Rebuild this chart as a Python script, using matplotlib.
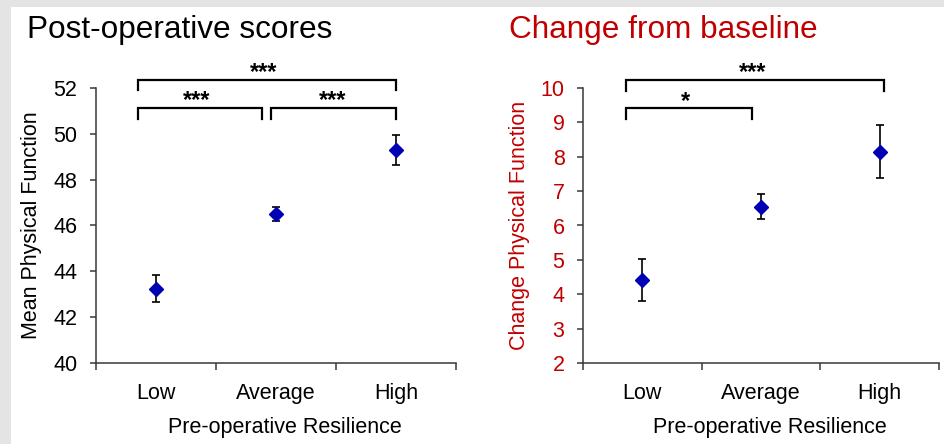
import numpy as np
import matplotlib
matplotlib.use('Agg')
from matplotlib import pyplot as plt
from matplotlib.patches import Rectangle

plt.rcParams['font.family'] = ['Liberation Sans', 'DejaVu Sans']

categories = ['Low', 'Average', 'High']

post_mean = [43.25, 46.5, 49.3]
post_err = [0.6, 0.3, 0.65]

change_mean = [4.42, 6.55, 8.15]
change_err = [0.61, 0.36, 0.78]

# brackets: (x_start, x_end, y_bar, y_leg, label, x_label)
post_brackets = [
	(0.85, 3.0, 52.35, 51.9, '***', 1.9),
	(0.85, 1.885, 51.14, 50.63, '***', 1.34),
	(1.96, 3.0, 51.14, 50.63, '***', 2.47),
]
change_brackets = [
	(0.86, 3.04, 10.23, 9.92, '***', 1.93),
	(0.86, 1.92, 9.41, 9.09, '*', 1.36),
]

RED = '#C00000'
BLUE = '#0000B4'
AXC = '#383838'


def draw_panel(ax, means, errs, ylim, yticks, ylabel, label_color, brackets):
	x = np.arange(1, len(categories) + 1)
	ax.errorbar(x, means, yerr=errs, fmt='none', ecolor='black',
		elinewidth=1.2, capsize=3.2, capthick=1.2, zorder=2)
	ax.plot(x, means, linestyle='none', marker='D', markersize=7.5,
		color=BLUE, markeredgecolor=BLUE, zorder=3)

	ax.set_xlim(0.5, 3.5)
	ax.set_ylim(*ylim)
	ax.set_yticks(yticks)
	ax.set_xticks([0.5, 1.5, 2.5, 3.5])
	ax.set_xticklabels([])
	ax.set_xticks(x, minor=True)
	ax.set_xticklabels(categories, minor=True, fontsize=15.5)
	ax.tick_params(axis='x', which='minor', length=0, pad=14.5)
	ax.tick_params(axis='x', which='major', length=5, width=1.1, color=AXC, direction='out')
	ax.tick_params(axis='y', length=4.3, width=1.1, color=AXC, direction='out',
		labelsize=15.5, labelcolor=label_color, pad=9)

	for s in ['top', 'right']:
		ax.spines[s].set_visible(False)
	for s in ['left', 'bottom']:
		ax.spines[s].set_color(AXC)
		ax.spines[s].set_linewidth(1.1)

	ax.set_ylabel(ylabel, fontsize=15.5, color=label_color)
	ax.yaxis.set_label_coords(-0.15, 0.5)
	ax.set_xlabel('Pre-operative Resilience', fontsize=15.5)
	ax.xaxis.set_label_coords(0.525, -0.195)

	for x0, x1, yb, yl, lab, xl in brackets:
		ax.plot([x0, x0, x1, x1], [yl, yb, yb, yl], color='black', lw=1.6,
			clip_on=False, solid_joinstyle='miter')
		ax.annotate(lab, xy=(xl, yb), xytext=(0, 0.5), textcoords='offset points',
			ha='center', va='baseline', fontsize=17, fontweight='bold',
			annotation_clip=False)


fig = plt.figure(figsize=(9.44, 4.44), dpi=100, facecolor='#e4e4e4')
fig.patches.append(Rectangle((11 / 944, 0), 1, 1 - 7 / 444, transform=fig.transFigure,
	facecolor='white', edgecolor='none', zorder=-10))

ax1 = fig.add_axes([96 / 944, 1 - 363 / 444, 360 / 944, 275 / 444])
ax2 = fig.add_axes([583 / 944, 1 - 363 / 444, 356 / 944, 275 / 444])
for ax in (ax1, ax2):
	ax.patch.set_alpha(0)

draw_panel(ax1, post_mean, post_err, (40, 52), np.arange(40, 53, 2),
	'Mean Physical Function', 'black', post_brackets)
draw_panel(ax2, change_mean, change_err, (2, 10), np.arange(2, 11, 1),
	'Change Physical Function', RED, change_brackets)

fig.text(27 / 944, 1 - 38 / 444, 'Post-operative scores', fontsize=22.7,
	ha='left', va='baseline', color='black')
fig.text(509 / 944, 1 - 38 / 444, 'Change from baseline', fontsize=22.7,
	ha='left', va='baseline', color=RED)

fig.savefig('out.png', dpi=100, facecolor=fig.get_facecolor())
